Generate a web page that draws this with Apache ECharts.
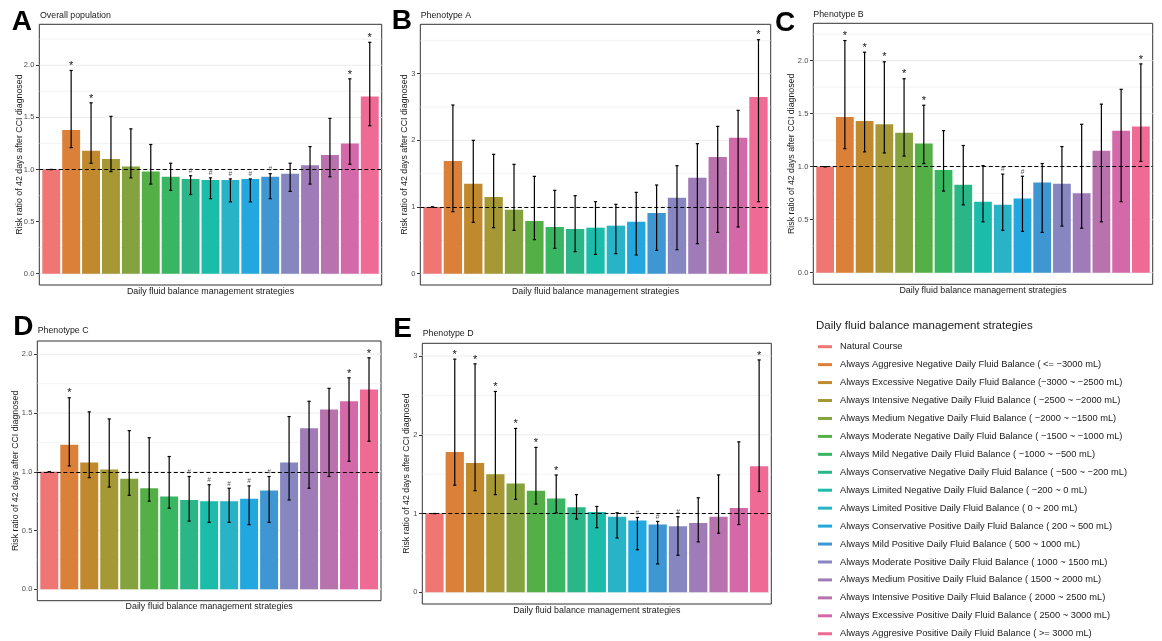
<!DOCTYPE html>
<html>
<head>
<meta charset="utf-8">
<script src="https://cdn.jsdelivr.net/npm/echarts@6/dist/echarts.min.js"></script>
<style>
  html, body { margin: 0; padding: 0; background: #fff; }
  #chart { width: 1162px; height: 641px; }
</style>
</head>
<body>
<div id="chart"></div>
<script>
const FONT = "'Liberation Sans', Arial, Helvetica, sans-serif"

const strategies = [
  'Natural Course',
  'Always Aggresive Negative Daily Fluid Balance ( <= \u22123000 mL)',
  'Always Excessive Negative Daily Fluid Balance (\u22123000 ~ \u22122500 mL)',
  'Always Intensive Negative Daily Fluid Balance ( \u22122500 ~ \u22122000 mL)',
  'Always Medium Negative Daily Fluid Balance ( \u22122000 ~ \u22121500 mL)',
  'Always Moderate Negative Daily Fluid Balance ( \u22121500 ~ \u22121000 mL)',
  'Always Mild Negative Daily Fluid Balance ( \u22121000 ~ \u2212500 mL)',
  'Always Conservative Negative Daily Fluid Balance ( \u2212500 ~ \u2212200 mL)',
  'Always Limited Negative Daily Fluid Balance ( \u2212200 ~ 0 mL)',
  'Always Limited Positive Daily Fluid Balance ( 0 ~ 200 mL)',
  'Always Conservative Positive Daily Fluid Balance ( 200 ~ 500 mL)',
  'Always Mild Positive Daily Fluid Balance ( 500 ~ 1000 mL)',
  'Always Moderate Positive Daily Fluid Balance ( 1000 ~ 1500 mL)',
  'Always Medium Positive Daily Fluid Balance ( 1500 ~ 2000 mL)',
  'Always Intensive Positive Daily Fluid Balance ( 2000 ~ 2500 mL)',
  'Always Excessive Positive Daily Fluid Balance ( 2500 ~ 3000 mL)',
  'Always Aggresive Positive Daily Fluid Balance ( >= 3000 mL)'
]

const colors = ['#EF7672', '#DB8038', '#C0892D', '#A59835', '#84A23E', '#54B046', '#38B662', '#2BB688',
  '#1CBCAA', '#29B3C6', '#22A8DF', '#3E97D2', '#8886C0', '#9F7CB7', '#B873AF', '#D469A9', '#EF6A95']

// A - overall population
const rrA = [1.00, 1.38, 1.18, 1.10, 1.03, 0.98, 0.93, 0.91, 0.90, 0.90, 0.91, 0.93, 0.96, 1.04, 1.14, 1.25, 1.70]
const loA = [1.00, 1.21, 1.06, 0.98, 0.92, 0.86, 0.80, 0.76, 0.72, 0.69, 0.69, 0.72, 0.79, 0.86, 0.93, 1.05, 1.42]
const hiA = [1.00, 1.95, 1.64, 1.51, 1.39, 1.24, 1.06, 0.94, 0.92, 0.91, 0.91, 0.96, 1.06, 1.22, 1.49, 1.87, 2.22]
const sigA = ['', '*', '*', '', '', '', '', '#', '#', '#', '#', '#', '', '', '', '*', '*']
const ticksA = [0, 0.5, 1, 1.5, 2]

// B - phenotype A
const rrB = [1.00, 1.69, 1.35, 1.15, 0.96, 0.79, 0.70, 0.67, 0.69, 0.72, 0.78, 0.91, 1.14, 1.44, 1.75, 2.04, 2.65]
const loB = [1.00, 0.93, 0.77, 0.69, 0.65, 0.51, 0.38, 0.33, 0.29, 0.30, 0.28, 0.35, 0.36, 0.45, 0.62, 0.70, 1.08]
const hiB = [1.00, 2.53, 2.00, 1.79, 1.64, 1.46, 1.25, 1.17, 1.08, 1.04, 1.22, 1.33, 1.62, 1.95, 2.21, 2.45, 3.51]
const sigB = ['', '', '', '', '', '', '', '', '', '', '', '', '', '', '', '', '*']
const ticksB = [0, 1, 2, 3]

// C - phenotype B
const rrC = [1.00, 1.47, 1.43, 1.40, 1.32, 1.22, 0.97, 0.83, 0.67, 0.64, 0.70, 0.85, 0.84, 0.75, 1.15, 1.34, 1.38]
const loC = [1.00, 1.17, 1.14, 1.13, 1.10, 1.03, 0.77, 0.64, 0.48, 0.40, 0.39, 0.38, 0.44, 0.42, 0.48, 0.67, 1.05]
const hiC = [1.00, 2.19, 2.08, 1.99, 1.83, 1.58, 1.34, 1.20, 1.01, 0.93, 0.91, 1.03, 1.19, 1.40, 1.59, 1.73, 1.97]
const sigC = ['', '*', '*', '*', '*', '*', '', '', '', '#', '#', '', '', '', '', '', '*']
const ticksC = [0, 0.5, 1, 1.5, 2]

// D - phenotype C
const rrD = [1.00, 1.23, 1.08, 1.02, 0.94, 0.86, 0.79, 0.76, 0.75, 0.75, 0.77, 0.84, 1.08, 1.37, 1.53, 1.60, 1.70]
const loD = [1.00, 1.05, 0.95, 0.87, 0.80, 0.75, 0.69, 0.58, 0.57, 0.57, 0.55, 0.57, 0.76, 0.86, 0.96, 1.09, 1.26]
const hiD = [1.00, 1.63, 1.51, 1.45, 1.35, 1.29, 1.13, 0.96, 0.89, 0.86, 0.88, 0.96, 1.47, 1.60, 1.71, 1.80, 1.97]
const sigD = ['', '*', '', '', '', '', '', '#', '#', '#', '#', '#', '', '', '', '*', '*']
const ticksD = [0, 0.5, 1, 1.5, 2]

// E - phenotype D
const rrE = [1.00, 1.78, 1.64, 1.50, 1.38, 1.29, 1.19, 1.08, 1.02, 0.96, 0.91, 0.86, 0.84, 0.88, 0.96, 1.07, 1.60]
const loE = [1.00, 1.36, 1.29, 1.24, 1.18, 1.12, 1.01, 0.93, 0.82, 0.69, 0.54, 0.36, 0.47, 0.64, 0.75, 0.86, 1.28]
const hiE = [1.00, 2.96, 2.90, 2.55, 2.08, 1.84, 1.49, 1.24, 1.09, 1.01, 0.95, 0.90, 0.96, 1.20, 1.49, 1.91, 2.95]
const sigE = ['', '*', '*', '*', '*', '*', '*', '', '', '', '#', '#', '#', '', '', '', '*']
const ticksE = [0, 1, 2, 3]

const xName = 'Daily fluid balance management strategies'
const yName = 'Risk ratio of 42 days after CCI diagnosed'

const panels = [
  { letter: 'A', title: 'Overall population', rr: rrA, lo: loA, hi: hiA, sig: sigA, ticks: ticksA, minor: 0.25, digits: 1,
    box: [39.3, 24.3, 381.7, 285], yMin: -0.108, yMax: 2.393, nameGap: 15.6, letterPos: [11.7, 21.8], titlePos: [40, 15.7] },
  { letter: 'B', title: 'Phenotype A', rr: rrB, lo: loB, hi: hiB, sig: sigB, ticks: ticksB, minor: 0.5, digits: 0,
    box: [420.3, 24.3, 770.7, 285], yMin: -0.17, yMax: 3.741, nameGap: 10.9, letterPos: [391.7, 21.5], titlePos: [420.7, 16] },
  { letter: 'C', title: 'Phenotype B', rr: rrC, lo: loC, hi: hiC, sig: sigC, ticks: ticksC, minor: 0.25, digits: 1,
    box: [813.3, 23.3, 1152.7, 284.3], yMin: -0.1094, yMax: 2.3528, nameGap: 17.2, letterPos: [775, 23], titlePos: [813.3, 15] },
  { letter: 'D', title: 'Phenotype C', rr: rrD, lo: loD, hi: hiD, sig: sigD, ticks: ticksD, minor: 0.25, digits: 1,
    box: [37.3, 341, 381, 600.7], yMin: -0.097, yMax: 2.113, nameGap: 17.2, letterPos: [13.3, 327.5], titlePos: [37.7, 330.7] },
  { letter: 'E', title: 'Phenotype D', rr: rrE, lo: loE, hi: hiE, sig: sigE, ticks: ticksE, minor: 0.5, digits: 0,
    box: [422.3, 343.3, 771.3, 604], yMin: -0.1485, yMax: 3.161, nameGap: 11.2, letterPos: [393.3, 329], titlePos: [422.7, 334] }
]

function gridRender (ticks) {
  return function (params, api) {
    const c = params.coordSys
    const v = api.value(1)
    const p = api.coord([api.value(0), v])
    const major = ticks.some(t => Math.abs(t - v) < 1e-6)
    return {
      type: 'line',
      shape: { x1: c.x, y1: p[1], x2: c.x + c.width, y2: p[1] },
      style: { stroke: '#EBEBEB', lineWidth: major ? 1 : 0.6 }
    }
  }
}

function errorRender (sig) {
  return function (params, api) {
    const x = api.value(0)
    const top = api.coord([x, api.value(2)])
    const bot = api.coord([x, api.value(1)])
    const cap = 1.6
    const ls = { stroke: '#000', lineWidth: 1.2 }
    const children = [
      { type: 'line', shape: { x1: top[0], y1: top[1], x2: bot[0], y2: bot[1] }, style: ls },
      { type: 'line', shape: { x1: top[0] - cap, y1: top[1], x2: top[0] + cap, y2: top[1] }, style: ls },
      { type: 'line', shape: { x1: bot[0] - cap, y1: bot[1], x2: bot[0] + cap, y2: bot[1] }, style: ls }
    ]
    const mark = sig[params.dataIndex]
    if (mark === '*') {
      children.push({ type: 'text', style: { text: '*', x: top[0], y: top[1] - 4.3, fill: '#111',
        font: '11px ' + FONT, align: 'center', verticalAlign: 'middle' } })
    } else if (mark === '#') {
      children.push({ type: 'text', style: { text: '#', x: top[0], y: top[1] - 4.5, fill: '#555',
        font: '6.5px ' + FONT, align: 'center', verticalAlign: 'middle' } })
    }
    return { type: 'group', children }
  }
}

const grids = []
const xAxes = []
const yAxes = []
const series = []
const graphics = []

panels.forEach((p, i) => {
  grids.push({
    left: p.box[0], top: p.box[1], width: p.box[2] - p.box[0], height: p.box[3] - p.box[1],
    show: true, borderColor: '#333', borderWidth: 1, backgroundColor: '#fff'
  })
  xAxes.push({
    gridIndex: i, type: 'value', min: 0.4, max: 17.6,
    axisLine: { show: false }, axisTick: { show: false }, axisLabel: { show: false }, splitLine: { show: false },
    name: xName, nameLocation: 'middle', nameGap: 1.6, nameMoveOverlap: false,
    nameTextStyle: { fontSize: 8.9, color: '#1a1a1a', fontFamily: FONT, verticalAlign: 'top' }
  })
  yAxes.push({
    gridIndex: i, type: 'value', min: p.yMin, max: p.yMax,
    axisLine: { show: false },
    axisTick: { show: true, customValues: p.ticks, length: 3.3, lineStyle: { color: '#333', width: 1 } },
    axisLabel: { customValues: p.ticks, margin: 5, fontSize: 7.5, color: '#4D4D4D', fontFamily: FONT,
      formatter: v => Number(v).toFixed(p.digits) },
    splitLine: { show: false },
    name: yName, nameLocation: 'middle', nameRotate: 90, nameGap: p.nameGap, nameMoveOverlap: false,
    nameTextStyle: { fontSize: 8.8, color: '#1a1a1a', fontFamily: FONT }
  })

  const lines = []
  for (let k = 0; k * p.minor <= p.yMax; k++) lines.push([0.4, +(k * p.minor).toFixed(4)])
  series.push({
    type: 'custom', xAxisIndex: i, yAxisIndex: i, silent: true, z: 0,
    encode: { x: 0, y: 1 }, data: lines, renderItem: gridRender(p.ticks)
  })
  series.push({
    type: 'bar', xAxisIndex: i, yAxisIndex: i, barWidth: '90%', z: 2, silent: true,
    data: p.rr.map((v, j) => ({ value: [j + 1, v], itemStyle: { color: colors[j] } })),
    markLine: {
      silent: true, symbol: ['none', 'none'], label: { show: false },
      lineStyle: { type: [4, 2.5], color: '#000', width: 1 },
      data: [{ yAxis: 1 }]
    }
  })
  series.push({
    type: 'custom', xAxisIndex: i, yAxisIndex: i, silent: true, z: 5,
    encode: { x: 0, y: [1, 2] },
    data: p.rr.map((v, j) => [j + 1, p.lo[j], p.hi[j]]),
    renderItem: errorRender(p.sig)
  })

  graphics.push({
    type: 'text', x: p.letterPos[0], y: p.letterPos[1],
    style: { text: p.letter, font: 'bold 28px ' + FONT, fill: '#000',
      textAlign: 'left', align: 'left', textVerticalAlign: 'middle', verticalAlign: 'middle' }
  })
  graphics.push({
    type: 'text', x: p.titlePos[0], y: p.titlePos[1],
    style: { text: p.title, font: '8.8px ' + FONT, fill: '#1a1a1a',
      textAlign: 'left', align: 'left', textVerticalAlign: 'middle', verticalAlign: 'middle' }
  })
})

graphics.push({
  type: 'text', x: 816, y: 326,
  style: { text: 'Daily fluid balance management strategies', font: '11.5px ' + FONT, fill: '#1a1a1a',
    textAlign: 'left', align: 'left', textVerticalAlign: 'middle', verticalAlign: 'middle' }
})

// legend entries only
strategies.forEach((name, j) => {
  series.push({
    type: 'line', name: name, xAxisIndex: 0, yAxisIndex: 0, data: [],
    itemStyle: { color: colors[j] }, lineStyle: { color: colors[j] }
  })
})

const chart = echarts.init(document.getElementById('chart'), null, { renderer: 'canvas' })
chart.setOption({
  animation: false,
  backgroundColor: '#fff',
  textStyle: { fontFamily: FONT },
  grid: grids,
  xAxis: xAxes,
  yAxis: yAxes,
  legend: {
    data: strategies, orient: 'vertical', left: 818, top: 340.7, padding: 0,
    icon: 'rect', itemWidth: 14, itemHeight: 3, itemGap: 5.94, selectedMode: false,
    textStyle: { fontSize: 9.3, lineHeight: 12, color: '#1a1a1a', fontFamily: FONT, padding: [0, 0, 0, 3] }
  },
  graphic: graphics,
  series: series
})
</script>
</body>
</html>
